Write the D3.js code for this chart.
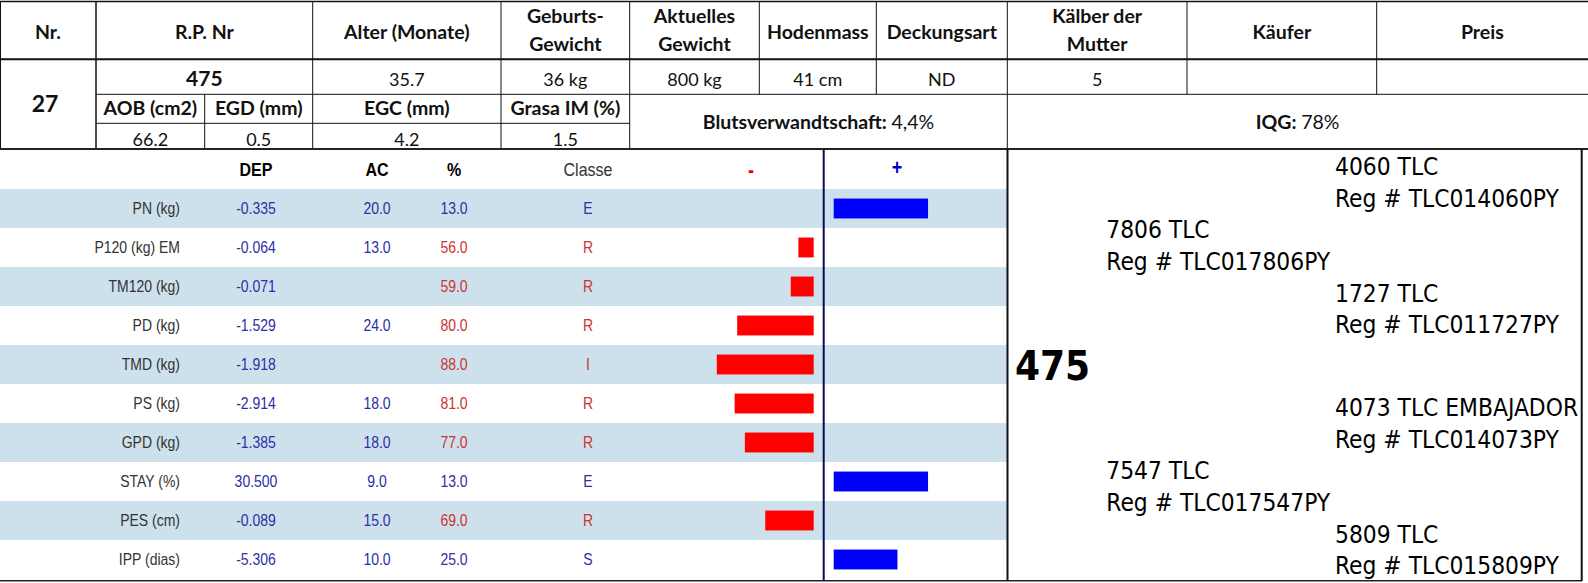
<!DOCTYPE html>
<html lang="de">
<head>
<meta charset="UTF-8">
<title>Stier 475</title>
<script src="https://cdn.jsdelivr.net/npm/d3@7"></script>
<style>
  body { margin: 0; background: #fff; }
  svg { display: block; }
  .hd text { font-family: Lato, "Open Sans", sans-serif; fill: #111; }
  .ep text { font-family: Arial, "Liberation Sans", sans-serif; }
  .ped text { font-family: "DejaVu Sans Condensed", "DejaVu Sans", sans-serif; font-stretch: condensed; fill: #000; }
</style>
</head>
<body>
<script>
// ---- data ----
const headLabels = [["Nr."], ["R.P. Nr"], ["Alter (Monate)"], ["Geburts-", "Gewicht"], ["Aktuelles", "Gewicht"],
                    ["Hodenmass"], ["Deckungsart"], ["Kälber der", "Mutter"], ["Käufer"], ["Preis"]]
const lotNr = "27"
const rpNr = "475"
const headValues = ["35.7", "36 kg", "800 kg", "41 cm", "ND", "5", "", ""]   // Alter .. Preis
const carcassLabels = ["AOB (cm2)", "EGD (mm)", "EGC (mm)", "Grasa IM (%)"]
const carcassValues = [66.2, 0.5, 4.2, 1.5]
const inbreeding = "4,4%"
const iqg = "78%"

const traits = ["PN (kg)", "P120 (kg) EM", "TM120 (kg)", "PD (kg)", "TMD (kg)", "PS (kg)", "GPD (kg)", "STAY (%)", "PES (cm)", "IPP (dias)"]
const dep = [-0.335, -0.064, -0.071, -1.529, -1.918, -2.914, -1.385, 30.5, -0.089, -5.306]
const ac = [20, 13, null, 24, null, 18, 18, 9, 15, 10]
const pct = [13, 56, 59, 80, 88, 81, 77, 13, 69, 25]
const classe = ["E", "R", "R", "R", "I", "R", "R", "E", "R", "S"]

const pedNames = ["4060 TLC", "7806 TLC", "1727 TLC", "4073 TLC EMBAJADOR", "7547 TLC", "5809 TLC"]
const pedRegs = ["TLC014060PY", "TLC017806PY", "TLC011727PY", "TLC014073PY", "TLC017547PY", "TLC015809PY"]
const pedGen = [2, 1, 2, 2, 1, 2]

// ---- layout ----
const W = 1588, H = 583
const colX = [0, 96, 312.7, 501, 629.7, 759.3, 876.3, 1007.3, 1187, 1376.7, 1588]
const subX = [96, 204.7, 312.7, 501, 629.7]
const blue = "#0000ff", red = "#ff0000"
const txtBlue = "#2e2ea6", txtRed = "#cc3333"
const good = c => c === "E" || c === "S"
const fmt = d3.formatLocale({ decimal: ".", thousands: ",", grouping: [3], currency: ["", ""], minus: "-" })

const svg = d3.select("body").append("svg")
    .attr("width", W)
    .attr("height", H)

// ================= top info table =================
const hd = svg.append("g").attr("class", "hd")

const hline = (g, x1, x2, y, w) => g.append("line")
    .attr("x1", x1).attr("x2", x2).attr("y1", y).attr("y2", y)
    .attr("stroke", "#111").attr("stroke-width", w)
const vline = (g, x, y1, y2, w) => g.append("line")
    .attr("x1", x).attr("x2", x).attr("y1", y1).attr("y2", y2)
    .attr("stroke", "#111").attr("stroke-width", w)

hline(hd, 0, W, 1.5, 1.5)
hline(hd, 0, W, 59.3, 2)
hline(hd, 96, W, 94.3, 1)
hline(hd, 96, 629.7, 123.3, 1)
vline(hd, 0.5, 1.5, 148, 1)
vline(hd, 96, 1.5, 148, 1.5)
;[312.7, 501, 629.7, 1007.3].forEach(x => vline(hd, x, 1.5, 148, 1))
;[759.3, 876.3, 1187, 1376.7].forEach(x => vline(hd, x, 1.5, 94.3, 1))
vline(hd, 204.7, 94.3, 148, 1)

headLabels.forEach((lines, i) => {
  const cx = (colX[i] + colX[i + 1]) / 2
  const t = hd.append("text")
      .attr("text-anchor", "middle")
      .attr("font-weight", "bold")
      .attr("font-size", 19.5)
  if (lines.length === 1) {
    t.attr("x", cx).attr("y", 38.5).text(lines[0])
  } else {
    lines.forEach((l, j) => t.append("tspan").attr("x", cx).attr("y", j ? 51 : 22.7).text(l))
  }
})

hd.append("text").attr("x", 45).attr("y", 112).attr("text-anchor", "middle")
    .attr("font-weight", "bold").attr("font-size", 23).text(lotNr)
hd.append("text").attr("x", (colX[1] + colX[2]) / 2).attr("y", 86).attr("text-anchor", "middle")
    .attr("font-weight", "bold").attr("font-size", 21).text(rpNr)

hd.selectAll("text.val")
  .data(headValues)
  .join("text")
    .attr("class", "val")
    .attr("x", (d, i) => (colX[i + 2] + colX[i + 3]) / 2)
    .attr("y", 86)
    .attr("text-anchor", "middle")
    .attr("font-size", 18)
    .text(d => d)

hd.selectAll("text.clab")
  .data(carcassLabels)
  .join("text")
    .attr("class", "clab")
    .attr("x", (d, i) => (subX[i] + subX[i + 1]) / 2)
    .attr("y", 115)
    .attr("text-anchor", "middle")
    .attr("font-weight", "bold")
    .attr("font-size", 19.5)
    .text(d => d)

hd.selectAll("text.cval")
  .data(carcassValues)
  .join("text")
    .attr("class", "cval")
    .attr("x", (d, i) => (subX[i] + subX[i + 1]) / 2)
    .attr("y", 145.5)
    .attr("text-anchor", "middle")
    .attr("font-size", 18)
    .text(d => fmt.format(".1f")(d))

const blut = hd.append("text").attr("x", (629.7 + 1007.3) / 2).attr("y", 128.5)
    .attr("text-anchor", "middle").attr("font-size", 19.5)
blut.append("tspan").attr("font-weight", "bold").text("Blutsverwandtschaft: ")
blut.append("tspan").text(inbreeding)

const iq = hd.append("text").attr("x", (1007.3 + W) / 2).attr("y", 128.5)
    .attr("text-anchor", "middle").attr("font-size", 19.5)
iq.append("tspan").attr("font-weight", "bold").text("IQG: ")
iq.append("tspan").text(iqg)

// ================= EPD table with bars =================
const ep = svg.append("g").attr("class", "ep")
const centerX = 823.7, gap = 10

const y = d3.scaleBand()
    .domain(traits)
    .range([189, 579])

const len = d3.scaleLinear()
    .domain([0, 50])
    .range([0, 127.5])

const rows = traits.map((t, i) => ({ t, dep: dep[i], ac: ac[i], pct: pct[i], cl: classe[i], i }))

ep.selectAll("rect.band")
  .data(rows.filter(d => d.i % 2 === 0))
  .join("rect")
    .attr("class", "band")
    .attr("x", 0)
    .attr("y", d => y(d.t))
    .attr("width", 1007)
    .attr("height", y.bandwidth())
    .attr("fill", "#cde1ec")

ep.selectAll("rect.bar")
  .data(rows)
  .join("rect")
    .attr("class", "bar")
    .attr("x", d => good(d.cl) ? centerX + gap : centerX - gap - len(d.pct - 50))
    .attr("y", d => y(d.t) + y.bandwidth() * 0.245)
    .attr("width", d => len(Math.abs(d.pct - 50)))
    .attr("height", y.bandwidth() * 0.51)
    .attr("fill", d => good(d.cl) ? blue : red)

// stretched text, like the scanned sheet
const stxt = (x, yy, str, opts) => ep.append("text")
    .attr("transform", `translate(${x},${yy}) scale(1,1.2)`)
    .attr("dy", "0.35em")
    .attr("text-anchor", opts.anchor || "middle")
    .attr("font-size", opts.size || 14)
    .attr("font-weight", opts.bold ? "bold" : null)
    .attr("fill", opts.fill || "#333")
    .text(str)

const headY = 169.5
stxt(256, headY, "DEP", { size: 16, bold: true, fill: "#000" })
stxt(377, headY, "AC", { size: 16, bold: true, fill: "#000" })
stxt(454, headY, "%", { size: 16, bold: true, fill: "#000" })
stxt(588, headY, "Classe", { size: 16, fill: "#333" })
stxt(751, headY, "-", { size: 18, bold: true, fill: "#dd0000" })
stxt(897, headY - 2, "+", { size: 18, bold: true, fill: "#0000cc" })

rows.forEach(d => {
  const cy = y(d.t) + y.bandwidth() / 2
  stxt(180, cy, d.t, { anchor: "end" })
  stxt(256, cy, fmt.format(".3f")(d.dep), { fill: txtBlue })
  if (d.ac !== null) stxt(377, cy, fmt.format(".1f")(d.ac), { fill: txtBlue })
  stxt(454, cy, fmt.format(".1f")(d.pct), { fill: good(d.cl) ? txtBlue : txtRed })
  stxt(588, cy, d.cl, { fill: good(d.cl) ? txtBlue : txtRed })
})

ep.append("line").attr("x1", centerX).attr("x2", centerX).attr("y1", 149).attr("y2", 581)
    .attr("stroke", "#0b0b55").attr("stroke-width", 2)
hline(ep, 0, W, 149, 2).attr("stroke", "#222")
hline(ep, 0, 1582, 580.8, 1.5).attr("stroke", "#222")
vline(ep, 1007.5, 149, 581, 2)
vline(ep, 1581.7, 149, 581, 2)

// ================= pedigree =================
const ped = svg.append("g").attr("class", "ped")
const genX = { 1: 1106.3, 2: 1335 }
const lineY = k => 175 + k * 31.65 + (k >= 6 ? 51 : 0)

ped.append("text").attr("x", 1015).attr("y", 380)
    .attr("font-weight", "bold").attr("font-size", 40).text(rpNr)

pedNames.forEach((n, i) => {
  ped.append("text").attr("x", genX[pedGen[i]]).attr("y", lineY(i * 2))
      .attr("font-size", 24.3).text(n)
  ped.append("text").attr("x", genX[pedGen[i]]).attr("y", lineY(i * 2 + 1))
      .attr("font-size", 24.3).text("Reg # " + pedRegs[i])
})
</script>
</body>
</html>
